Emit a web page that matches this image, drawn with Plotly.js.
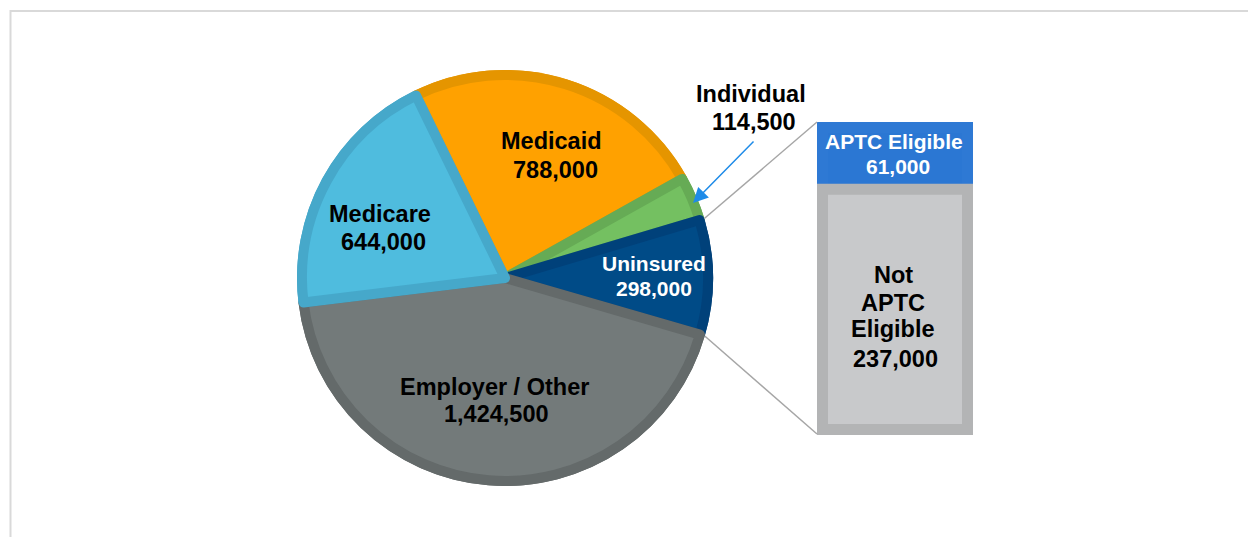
<!DOCTYPE html>
<html>
<head>
<meta charset="utf-8">
<script src="https://cdn.plot.ly/plotly-3.0.1.min.js"></script>
<style>html,body{margin:0;padding:0;background:#fff;}#chart{width:1248px;height:537px;}</style>
</head>
<body>
<div id="chart"></div>
<script>
// ---- data ----
const categories = ['Medicaid', 'Individual', 'Uninsured', 'Employer / Other', 'Medicare'];
const values = [788000, 114500, 298000, 1424500, 644000];
const subCategories = ['APTC Eligible', 'Not APTC Eligible'];
const subValues = [61000, 237000];
const subLabelLines = [['APTC Eligible'], ['Not', 'APTC', 'Eligible']];

// ---- styles ----
const fillColors = ['#FFA100', '#74C061', '#004B87', '#737A7A', '#4FBCDE'];
const edgeColors = ['#E59500', '#66AB55', '#00417A', '#646A6A', '#46A8CA'];
const subFill = ['#2B77D3', '#C8C9CB'];
const subEdge = ['#2E79D4', '#B3B4B5'];
const W = 1248, H = 537;
const CX = 505, CY = 278, R = 208, RIN = 203;
const ROT = -26;
const BAR = {l: 817, r: 973, t: 122, b: 435, stroke: 11, pad: 12};

const px = x => x / W;
const py = y => 1 - y / H;
const fmt = v => v.toLocaleString('en-US');

const FONT = 'Liberation Sans, Arial, sans-serif';

// label line centers in pixels [x, y] per line; sizes & colours
const pieLabelPos = [
  {lines: [[551, 141.5], [555, 170]], size: 23.5, color: '#000'},
  {lines: [[750.5, 94], [754, 121.5]], size: 23.5, color: '#000'},
  {lines: [[653.5, 263.5], [654, 288.5]], size: 21, color: '#fff'},
  {lines: [[494, 386.5], [497, 414]], size: 23.5, color: '#000'},
  {lines: [[380, 214], [383, 242]], size: 23.5, color: '#000'}
];
const subLabelPos = [
  {lines: [[894.5, 141.5], [897.5, 166]], size: 21, color: '#fff'},
  {lines: [[893, 275], [892.5, 302.5], [893, 328.5], [895.5, 358.5]], size: 23.5, color: '#000'}
];

const annotations = [];
function addLines(textLines, pos) {
  textLines.forEach((t, i) => {
    const p = pos.lines[i];
    annotations.push({
      x: px(p[0]), y: py(p[1]), xref: 'paper', yref: 'paper',
      xanchor: 'center', yanchor: 'middle', showarrow: false,
      text: '<b>' + t + '</b>',
      font: {family: FONT, size: pos.size, color: pos.color}
    });
  });
}
categories.forEach((c, i) => addLines([c, fmt(values[i])], pieLabelPos[i]));
subCategories.forEach((c, i) => addLines(subLabelLines[i].concat([fmt(subValues[i])]), subLabelPos[i]));

// arrow to Individual slice
annotations.push({
  x: px(693), y: py(203), xref: 'paper', yref: 'paper',
  ax: 62, ay: -63, showarrow: true, text: '',
  arrowhead: 2, arrowsize: 2, arrowwidth: 1.5, arrowcolor: '#1E8BE8'
});

// connectors computed from the uninsured slice angles
const total = values.reduce((a, b) => a + b, 0);
const iU = categories.indexOf('Uninsured');
const before = values.slice(0, iU).reduce((a, b) => a + b, 0);
const a0 = (ROT + before / total * 360) * Math.PI / 180;
const a1 = (ROT + (before + values[iU]) / total * 360) * Math.PI / 180;
const p0 = [CX + R * Math.sin(a0), CY - R * Math.cos(a0)];
const p1 = [CX + R * Math.sin(a1), CY - R * Math.cos(a1)];

const shapes = [
  {type: 'rect', xref: 'paper', yref: 'paper', x0: px(10.5), x1: 1.02, y0: py(11), y1: -0.02,
   line: {color: '#D9D9D9', width: 2}, fillcolor: 'rgba(0,0,0,0)', layer: 'below'},
  {type: 'line', xref: 'paper', yref: 'paper', x0: px(p0[0]), y0: py(p0[1]), x1: px(BAR.l), y1: py(BAR.t),
   line: {color: '#A6A6A6', width: 1.5}},
  {type: 'line', xref: 'paper', yref: 'paper', x0: px(p1[0]), y0: py(p1[1]), x1: px(BAR.l), y1: py(BAR.b - 1),
   line: {color: '#A6A6A6', width: 1.5}}
];

// bar geometry: inner (stroke-centre) box, padded axis domain so the stroke is not clipped
const half = BAR.stroke / 2;
const gx0 = BAR.l + half, gx1 = BAR.r - half, gy0 = BAR.t + half, gy1 = BAR.b - half;
const dx0 = BAR.l - BAR.pad, dx1 = BAR.r + BAR.pad, dy0 = BAR.t - BAR.pad, dy1 = BAR.b + BAR.pad;
const subTotal = subValues[0] + subValues[1];
const sx = (gx1 - gx0) / 1;
const sy = (gy1 - gy0) / subTotal;
const xRange = [-0.5 - (gx0 - dx0) / sx, 0.5 + (dx1 - gx1) / sx];
const yRange = [0 - (dy1 - gy1) / sy, subTotal + (gy0 - dy0) / sy];

const traces = [
  {
    type: 'pie', values: values, labels: categories, sort: false, direction: 'clockwise',
    rotation: ROT, textinfo: 'none', hoverinfo: 'skip', showlegend: false,
    domain: {x: [px(CX - R), px(CX + R)], y: [py(CY + R), py(CY - R)]},
    marker: {colors: edgeColors, line: {width: 0}}
  },
  {
    type: 'pie', values: values, labels: categories, sort: false, direction: 'clockwise',
    rotation: ROT, textinfo: 'none', hoverinfo: 'skip', showlegend: false,
    domain: {x: [px(CX - RIN), px(CX + RIN)], y: [py(CY + RIN), py(CY - RIN)]},
    marker: {colors: fillColors, line: {width: 10, color: edgeColors}}
  },
  {
    type: 'bar', x: [0], y: [subValues[0]], base: [subValues[1]], width: [1],
    xaxis: 'x2', yaxis: 'y2', hoverinfo: 'skip', showlegend: false, cliponaxis: false,
    marker: {color: subFill[0], line: {color: subEdge[0], width: BAR.stroke}}
  },
  {
    type: 'bar', x: [0], y: [subValues[1]], base: [0], width: [1],
    xaxis: 'x2', yaxis: 'y2', hoverinfo: 'skip', showlegend: false, cliponaxis: false,
    marker: {color: subFill[1], line: {color: subEdge[1], width: BAR.stroke}}
  }
];

const layout = {
  width: W, height: H,
  margin: {l: 0, r: 0, t: 0, b: 0},
  paper_bgcolor: '#FFFFFF', plot_bgcolor: 'rgba(0,0,0,0)',
  showlegend: false,
  barmode: 'overlay', bargap: 0,
  xaxis2: {domain: [px(dx0), px(dx1)], range: xRange, type: 'linear', visible: false,
           anchor: 'y2', fixedrange: true},
  yaxis2: {domain: [py(dy1), py(dy0)], range: yRange, type: 'linear',
           visible: false, anchor: 'x2', fixedrange: true},
  xaxis: {visible: false}, yaxis: {visible: false},
  annotations: annotations,
  shapes: shapes
};

Plotly.newPlot('chart', traces, layout, {staticPlot: true, displayModeBar: false});
</script>
</body>
</html>
